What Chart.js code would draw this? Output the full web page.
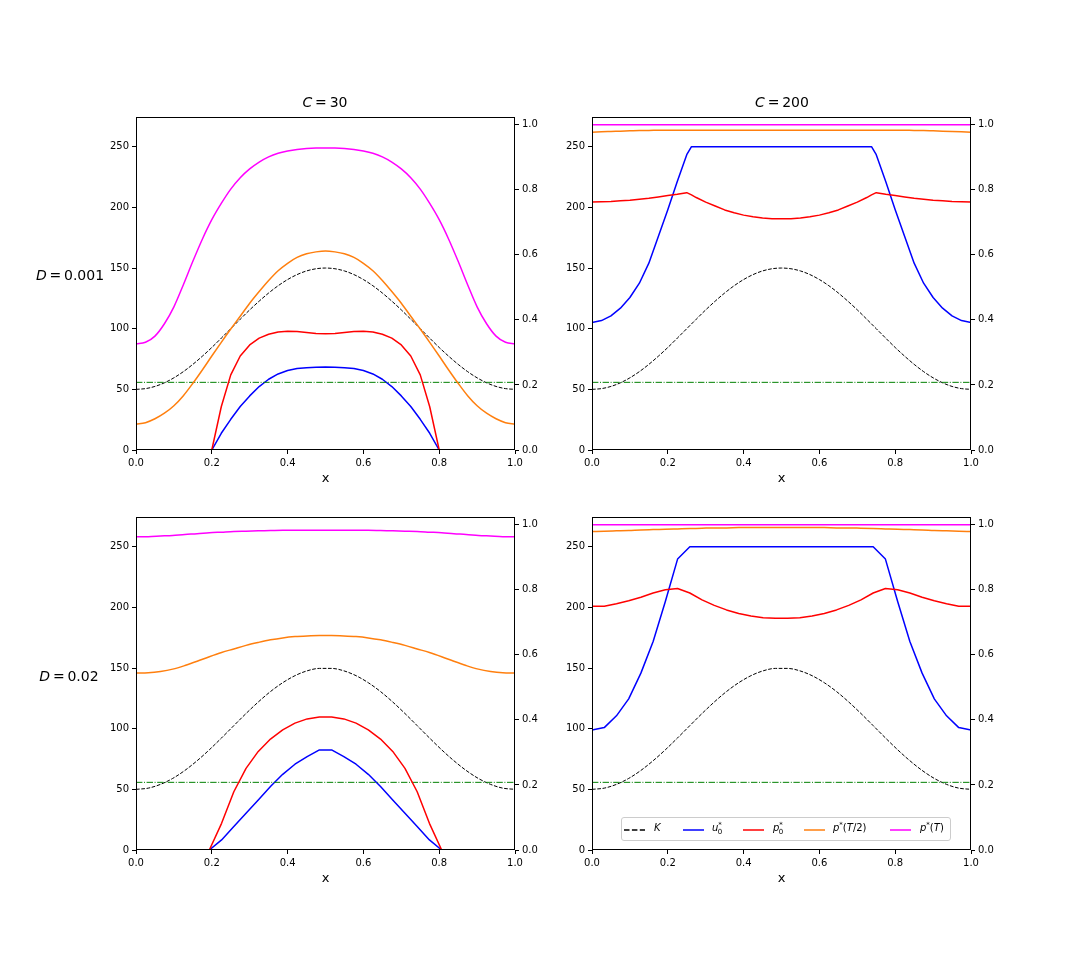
<!DOCTYPE html>
<html>
<head>
<meta charset="utf-8">
<script src="https://cdn.jsdelivr.net/npm/chart.js@4.4.1/dist/chart.umd.min.js"></script>
<style>
  body { margin: 0; background: #fff; }
  #fig { position: relative; width: 1080px; height: 972px; background: #fff;
         font-family: "DejaVu Sans", sans-serif; color: #000; overflow: hidden; }
  .panel { position: absolute; }
  .lbl { position: absolute; white-space: nowrap; transform: translate(-50%, -50%); font-size: 14px; }
  .leg { position: absolute; left: 621px; top: 817px; width: 330px; height: 24px; box-sizing: border-box;
         border: 1px solid #cccccc; border-radius: 3px; background: rgba(255,255,255,0.8); font-size: 10px; }
  .leg svg { position: absolute; top: 10px; }
  .leg span.t { position: absolute; top: 4px; white-space: nowrap; }
  sup, sub { font-size: 7px; line-height: 0; position: relative; }
  sup { vertical-align: 0; top: -4px; }
  sub { vertical-align: 0; top: 3px; }
</style>
</head>
<body>
<div id="fig">
  <div class="panel" style="left:86px;top:105px;width:479px;height:385px"><canvas id="p1"></canvas></div>
  <div class="panel" style="left:542px;top:105px;width:479px;height:385px"><canvas id="p2"></canvas></div>
  <div class="panel" style="left:86px;top:505px;width:479px;height:385px"><canvas id="p3"></canvas></div>
  <div class="panel" style="left:542px;top:505px;width:479px;height:385px"><canvas id="p4"></canvas></div>

  <div class="lbl" style="left:325px;top:102px"><i>C</i>&thinsp;=&thinsp;30</div>
  <div class="lbl" style="left:782px;top:102px"><i>C</i>&thinsp;=&thinsp;200</div>
  <div class="lbl" style="left:70px;top:275px"><i>D</i>&thinsp;=&thinsp;0.001</div>
  <div class="lbl" style="left:69px;top:676px"><i>D</i>&thinsp;=&thinsp;0.02</div>

  <div class="leg">
    <svg style="left:2px" width="21" height="4"><line x1="0" y1="2" x2="21" y2="2" stroke="#000" stroke-width="1.5" stroke-dasharray="5.5,2.4"/></svg>
    <span class="t" style="left:32px"><i>K</i></span>
    <svg style="left:61px" width="21" height="4"><line x1="0" y1="2" x2="21" y2="2" stroke="#0000ff" stroke-width="1.5"/></svg>
    <span class="t" style="left:90px"><i>u</i><sup>*</sup><sub style="margin-left:-4px">0</sub></span>
    <svg style="left:121px" width="21" height="4"><line x1="0" y1="2" x2="21" y2="2" stroke="#ff0000" stroke-width="1.5"/></svg>
    <span class="t" style="left:151px"><i>p</i><sup>*</sup><sub style="margin-left:-4px">0</sub></span>
    <svg style="left:182px" width="21" height="4"><line x1="0" y1="2" x2="21" y2="2" stroke="#ff7f0e" stroke-width="1.5"/></svg>
    <span class="t" style="left:211px"><i>p</i><sup>*</sup>(<i>T</i>/2)</span>
    <svg style="left:268px" width="21" height="4"><line x1="0" y1="2" x2="21" y2="2" stroke="#ff00ff" stroke-width="1.5"/></svg>
    <span class="t" style="left:298px"><i>p</i><sup>*</sup>(<i>T</i>)</span>
  </div>
</div>

<script>
/* ===== DATA ===== */

// x grid, top row (D = 0.001)
const xTop = [0, 0.025, 0.05, 0.075, 0.1, 0.125, 0.15, 0.175, 0.2, 0.225, 0.25, 0.275, 0.3, 0.325, 0.35,
  0.375, 0.4, 0.425, 0.45, 0.475, 0.5, 0.525, 0.55, 0.575, 0.6, 0.625, 0.65, 0.675, 0.7, 0.725, 0.75,
  0.775, 0.8, 0.825, 0.85, 0.875, 0.9, 0.925, 0.95, 0.975, 1];

// carrying capacity K on the top grid
const kTop = [50.0, 50.6, 52.4, 55.4, 59.5, 64.6, 70.6, 77.3, 84.5, 92.2, 100.0, 107.8, 115.5, 122.7, 129.4,
  135.4, 140.5, 144.6, 147.6, 149.4, 150.0, 149.4, 147.6, 144.6, 140.5, 135.4, 129.4, 122.7, 115.5, 107.8,
  100.0, 92.2, 84.5, 77.3, 70.6, 64.6, 59.5, 55.4, 52.4, 50.6, 50.0];

// C = 30, D = 0.001
const u30a = [0, 0, 0, 0, 0, 0, 0, 0, 0, 13.8, 25.3, 35.8, 44.6, 52.3, 58.3, 62.7, 65.5, 67.1, 67.9, 68.2,
  68.5, 68.2, 67.9, 67.1, 65.5, 62.7, 58.3, 52.3, 44.6, 35.8, 25.3, 13.8, 0, 0, 0, 0, 0, 0, 0, 0, 0];
const p0_30a = [0, 0, 0, 0, 0, 0, 0, 0, 0, 0.133, 0.231, 0.289, 0.323, 0.344, 0.356, 0.363, 0.365, 0.364,
  0.361, 0.358, 0.357, 0.358, 0.361, 0.364, 0.365, 0.363, 0.356, 0.344, 0.323, 0.289, 0.231, 0.133,
  0, 0, 0, 0, 0, 0, 0, 0, 0];
const pHalf30a = [0.080, 0.084, 0.096, 0.113, 0.136, 0.167, 0.205, 0.246, 0.289, 0.331, 0.372, 0.411, 0.451,
  0.487, 0.521, 0.551, 0.574, 0.592, 0.603, 0.609, 0.612, 0.609, 0.603, 0.592, 0.574, 0.551, 0.521, 0.487,
  0.451, 0.411, 0.372, 0.331, 0.289, 0.246, 0.205, 0.167, 0.136, 0.113, 0.096, 0.084, 0.080];
const pEnd30a = [0.326, 0.331, 0.350, 0.388, 0.440, 0.508, 0.580, 0.648, 0.708, 0.758, 0.802, 0.837, 0.864,
  0.885, 0.901, 0.912, 0.919, 0.924, 0.927, 0.928, 0.928, 0.928, 0.927, 0.924, 0.919, 0.912, 0.901, 0.885,
  0.864, 0.837, 0.802, 0.758, 0.708, 0.648, 0.580, 0.508, 0.440, 0.388, 0.350, 0.331, 0.326];

// C = 200, D = 0.001 (grid with the plateau corners)
const xTopR = [0, 0.025, 0.05, 0.075, 0.1, 0.125, 0.15, 0.175, 0.2, 0.225, 0.25, 0.2625, 0.275, 0.3, 0.325,
  0.35, 0.375, 0.4, 0.425, 0.45, 0.475, 0.5, 0.525, 0.55, 0.575, 0.6, 0.625, 0.65, 0.675, 0.7, 0.725,
  0.7375, 0.75, 0.775, 0.8, 0.825, 0.85, 0.875, 0.9, 0.925, 0.95, 0.975, 1];
const u200a = [105.1, 106.7, 110.6, 116.9, 125.7, 137.5, 154.0, 176.0, 198.0, 221.4, 243.4, 250,
  250, 250, 250, 250, 250, 250, 250, 250, 250, 250, 250, 250, 250, 250, 250, 250, 250, 250, 250,
  250, 243.4, 221.4, 198.0, 176.0, 154.0, 137.5, 125.7, 116.9, 110.6, 106.7, 105.1];
const p0_200a = [0.762, 0.763, 0.764, 0.766, 0.768, 0.771, 0.774, 0.778, 0.782, 0.786, 0.791, 0.784,
  0.776, 0.762, 0.750, 0.738, 0.729, 0.722, 0.717, 0.713, 0.711, 0.711, 0.711, 0.713, 0.717, 0.722, 0.729,
  0.738, 0.750, 0.762, 0.776, 0.784, 0.791, 0.786, 0.782, 0.778, 0.774, 0.771, 0.768, 0.766, 0.764, 0.763, 0.762];
const pHalf200a = [0.977, 0.978, 0.979, 0.980, 0.981, 0.982, 0.982, 0.983, 0.983, 0.983, 0.983, 0.983,
  0.983, 0.983, 0.983, 0.983, 0.983, 0.983, 0.983, 0.983, 0.983, 0.983, 0.983, 0.983, 0.983, 0.983, 0.983,
  0.983, 0.983, 0.983, 0.983, 0.983, 0.983, 0.983, 0.983, 0.983, 0.982, 0.982, 0.981, 0.980, 0.979, 0.978, 0.977];
const pEnd200a = [1, 1, 1, 1, 1, 1, 1, 1, 1, 1, 1, 1, 1, 1, 1, 1, 1, 1, 1, 1, 1, 1, 1, 1, 1, 1, 1, 1, 1, 1,
  1, 1, 1, 1, 1, 1, 1, 1, 1, 1, 1, 1, 1];

// x grid, bottom row (D = 0.02), 32 nodes
const xBot = [0, 0.0323, 0.0645, 0.0968, 0.1290, 0.1613, 0.1935, 0.2258, 0.2581, 0.2903, 0.3226, 0.3548,
  0.3871, 0.4194, 0.4516, 0.4839, 0.5161, 0.5484, 0.5806, 0.6129, 0.6452, 0.6774, 0.7097, 0.7419, 0.7742,
  0.8065, 0.8387, 0.8710, 0.9032, 0.9355, 0.9677, 1];
const kBot = [50.0, 51.0, 54.1, 59.0, 65.6, 73.6, 82.6, 92.4, 102.5, 112.5, 122.0, 130.6, 137.9, 143.7, 147.7,
  149.7, 149.7, 147.7, 143.7, 137.9, 130.6, 122.0, 112.5, 102.5, 92.4, 82.6, 73.6, 65.6, 59.0, 54.1, 51.0, 50.0];

// C = 30, D = 0.02
const u30b = [0, 0, 0, 0, 0, 0, 0, 8.3, 19.3, 30.3, 41.3, 52.3, 62.4, 70.7, 77.0, 82.5, 82.5, 77.0, 70.7,
  62.4, 52.3, 41.3, 30.3, 19.3, 8.3, 0, 0, 0, 0, 0, 0, 0];
const p0_30b = [0, 0, 0, 0, 0, 0, 0, 0.082, 0.179, 0.251, 0.303, 0.341, 0.369, 0.390, 0.403, 0.409, 0.409,
  0.403, 0.390, 0.369, 0.341, 0.303, 0.251, 0.179, 0.082, 0, 0, 0, 0, 0, 0, 0];
const pHalf30b = [0.544, 0.545, 0.549, 0.556, 0.567, 0.580, 0.594, 0.607, 0.618, 0.629, 0.638, 0.646, 0.652,
  0.656, 0.658, 0.659, 0.659, 0.658, 0.656, 0.652, 0.646, 0.638, 0.629, 0.618, 0.607, 0.594, 0.580, 0.567,
  0.556, 0.549, 0.545, 0.544];
const pEnd30b = [0.963, 0.963, 0.965, 0.967, 0.970, 0.972, 0.975, 0.977, 0.979, 0.980, 0.981, 0.982, 0.983,
  0.983, 0.983, 0.983, 0.983, 0.983, 0.983, 0.983, 0.982, 0.981, 0.980, 0.979, 0.977, 0.975, 0.972, 0.970,
  0.967, 0.965, 0.963, 0.963];

// C = 200, D = 0.02
const u200b = [99.0, 100.9, 110.6, 124.6, 145.8, 171.9, 204.9, 239.8, 250, 250, 250, 250, 250, 250, 250, 250,
  250, 250, 250, 250, 250, 250, 250, 250, 239.8, 204.9, 171.9, 145.8, 124.6, 110.6, 100.9, 99.0];
const p0_200b = [0.749, 0.749, 0.757, 0.766, 0.777, 0.790, 0.800, 0.804, 0.790, 0.769, 0.752, 0.738, 0.727,
  0.719, 0.714, 0.712, 0.712, 0.714, 0.719, 0.727, 0.738, 0.752, 0.769, 0.790, 0.804, 0.800, 0.790, 0.777,
  0.766, 0.757, 0.749, 0.749];
const pHalf200b = [0.979, 0.980, 0.981, 0.982, 0.984, 0.985, 0.986, 0.987, 0.988, 0.989, 0.990, 0.990, 0.991,
  0.991, 0.991, 0.991, 0.991, 0.991, 0.991, 0.991, 0.990, 0.990, 0.989, 0.988, 0.987, 0.986, 0.985, 0.984,
  0.982, 0.981, 0.980, 0.979];
const pEnd200b = [1, 1, 1, 1, 1, 1, 1, 1, 1, 1, 1, 1, 1, 1, 1, 1, 1, 1, 1, 1, 1, 1, 1, 1, 1, 1, 1, 1, 1, 1, 1, 1];

// horizontal reference level (right axis)
const xEnds = [0, 1];
const refLevel = [0.208, 0.208];

// tick values
const xTicks = [0, 0.2, 0.4, 0.6, 0.8, 1.0];
const leftTicks = [0, 50, 100, 150, 200, 250];
const rightTicks = [0, 0.2, 0.4, 0.6, 0.8, 1.0];

/* ===== HELPERS ===== */

const FONT_FAMILY = '"DejaVu Sans", sans-serif';

function pts(xs, ys) {
  return xs.map((x, i) => ({ x: x, y: ys[i] }));
}

// smooth = monotone cubic for the gently curved profiles, straight segments otherwise
function line(xs, ys, color, axis, width, dash, smooth) {
  return {
    data: pts(xs, ys),
    borderColor: color,
    borderWidth: width,
    borderDash: dash || [],
    borderJoinStyle: 'round',
    pointRadius: 0,
    tension: 0,
    cubicInterpolationMode: smooth ? 'monotone' : 'default',
    fill: false,
    yAxisID: axis,
  };
}

// box around the axes area
const framePlugin = {
  id: 'frame',
  afterDatasetsDraw(chart) {
    const { ctx, chartArea: a } = chart;
    ctx.save();
    ctx.strokeStyle = '#000';
    ctx.lineWidth = 1;
    ctx.strokeRect(Math.round(a.left) + 0.5, Math.round(a.top) + 0.5,
      Math.round(a.right - a.left) - 1, Math.round(a.bottom - a.top) - 1);
    ctx.restore();
  }
};

const tickFont = { family: FONT_FAMILY, size: 10 };
const tickGrid = { display: true, drawOnChartArea: false, drawTicks: true, tickLength: 4, color: '#000', lineWidth: 1 };
const DASH_K = [3.7, 1.6];
const DASH_REF = [6.4, 1.6, 1, 1.6];

function makePanel(id, datasets) {
  new Chart(document.getElementById(id), {
    type: 'line',
    data: { datasets },
    options: {
      responsive: true,
      maintainAspectRatio: false,
      animation: false,
      layout: { padding: { top: 12, left: 0, right: 0, bottom: 0 } },
      plugins: { legend: { display: false }, tooltip: { enabled: false } },
      scales: {
        x: {
          type: 'linear', min: 0, max: 1,
          afterBuildTicks(s) { s.ticks = xTicks.map(v => ({ value: v })); },
          afterFit(s) { s.height = 40; },
          grid: tickGrid,
          border: { display: false },
          ticks: { font: tickFont, color: '#000', padding: 3, maxRotation: 0, callback: v => v.toFixed(1) },
          title: { display: true, text: 'x', font: { family: FONT_FAMILY, size: 13 }, color: '#000',
                   padding: { top: 0, bottom: 4 } },
        },
        y: {
          type: 'linear', position: 'left', min: 0, max: 274.5,
          afterBuildTicks(s) { s.ticks = leftTicks.map(v => ({ value: v })); },
          afterFit(s) { s.width = 50; },
          grid: tickGrid,
          border: { display: false },
          ticks: { font: tickFont, color: '#000', padding: 3, callback: v => String(v) },
        },
        y2: {
          type: 'linear', position: 'right', min: 0, max: 1.0236,
          afterBuildTicks(s) { s.ticks = rightTicks.map(v => ({ value: v })); },
          afterFit(s) { s.width = 50; },
          grid: tickGrid,
          border: { display: false },
          ticks: { font: tickFont, color: '#000', padding: 3, callback: v => v.toFixed(1) },
        },
      }
    },
    plugins: [framePlugin]
  });
}

/* ===== PANELS ===== */
// first dataset is drawn on top

makePanel('p1', [
  line(xTop, pEnd30a, '#ff00ff', 'y2', 1.5, null, true),
  line(xTop, pHalf30a, '#ff7f0e', 'y2', 1.5, null, true),
  line(xTop, p0_30a, '#ff0000', 'y2', 1.5),
  line(xEnds, refLevel, '#008000', 'y2', 1, DASH_REF),
  line(xTop, u30a, '#0000ff', 'y', 1.5),
  line(xTop, kTop, '#000000', 'y', 1, DASH_K, true),
]);

makePanel('p2', [
  line(xTopR, pEnd200a, '#ff00ff', 'y2', 1.5),
  line(xTopR, pHalf200a, '#ff7f0e', 'y2', 1.5, null, true),
  line(xTopR, p0_200a, '#ff0000', 'y2', 1.5),
  line(xEnds, refLevel, '#008000', 'y2', 1, DASH_REF),
  line(xTopR, u200a, '#0000ff', 'y', 1.5),
  line(xTop, kTop, '#000000', 'y', 1, DASH_K, true),
]);

makePanel('p3', [
  line(xBot, pEnd30b, '#ff00ff', 'y2', 1.5, null, true),
  line(xBot, pHalf30b, '#ff7f0e', 'y2', 1.5, null, true),
  line(xBot, p0_30b, '#ff0000', 'y2', 1.5),
  line(xEnds, refLevel, '#008000', 'y2', 1, DASH_REF),
  line(xBot, u30b, '#0000ff', 'y', 1.5),
  line(xBot, kBot, '#000000', 'y', 1, DASH_K, true),
]);

makePanel('p4', [
  line(xBot, pEnd200b, '#ff00ff', 'y2', 1.5),
  line(xBot, pHalf200b, '#ff7f0e', 'y2', 1.5, null, true),
  line(xBot, p0_200b, '#ff0000', 'y2', 1.5),
  line(xEnds, refLevel, '#008000', 'y2', 1, DASH_REF),
  line(xBot, u200b, '#0000ff', 'y', 1.5),
  line(xBot, kBot, '#000000', 'y', 1, DASH_K, true),
]);
</script>
</body>
</html>
